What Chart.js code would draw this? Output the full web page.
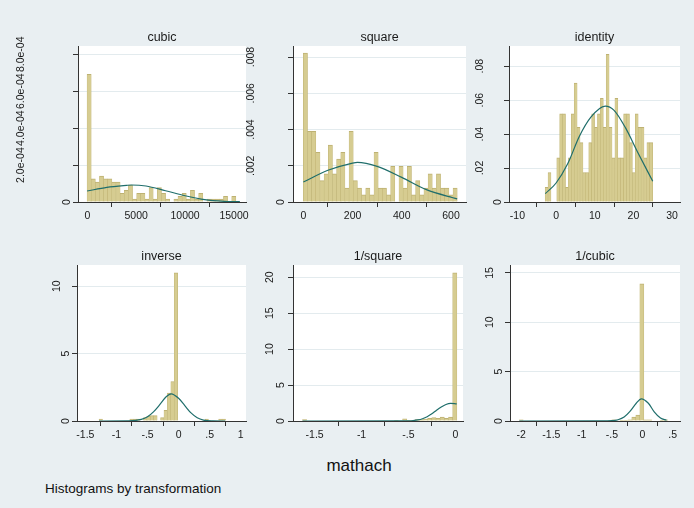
<!DOCTYPE html>
<html>
<head>
<meta charset="utf-8">
<script src="https://cdn.jsdelivr.net/npm/chart.js@4.4.0/dist/chart.umd.min.js"></script>
<style>
  body { margin: 0; background: #ffffff; }
  #wrap { position: relative; width: 694px; height: 508px; background: #e9eff2; overflow: hidden;
          font-family: "Liberation Sans", Arial, sans-serif; }
  #wrap canvas { position: absolute; }
  #xtitle { position: absolute; left: 0; width: 694px; top: 456px; text-align: center; font-size: 17px; color: #111; padding-left: 24px; box-sizing: border-box; }
  #note { position: absolute; left: 45px; top: 481px; font-size: 13.5px; color: #111; }
</style>
</head>
<body>
<div id="wrap">
  <div id="xtitle">mathach</div>
  <div id="note">Histograms by transformation</div>
</div>
<script>
// ---- cubic ----
const cubicStart = -23, cubicWidth = 422.6;
const cubicDens = [6.92e-4, 1.26e-4, 1.08e-4, 1.40e-4, 1.26e-4, 1.26e-4, 1.08e-4, 1.08e-4, 0.47e-4, 0.63e-4,
                   0.92e-4, 0.16e-4, 0.47e-4, 0.47e-4, 0.16e-4, 0.78e-4, 0.16e-4, 0.78e-4, 0.47e-4, 0.16e-4,
                   0, 0.16e-4, 0.31e-4, 0.47e-4, 0.16e-4, 0.63e-4, 0.16e-4, 0.47e-4, 0, 0.16e-4,
                   0.16e-4, 0.16e-4, 0.16e-4, 0.31e-4, 0, 0.31e-4, 0];
const cubicCurveX = [-23, 2000, 4000, 4500, 6000, 8000, 10000, 12000, 14000, 15600];
const cubicCurveY = [0.595e-4, 0.79e-4, 0.90e-4, 0.92e-4, 0.865e-4, 0.61e-4, 0.34e-4, 0.126e-4, 0.036e-4, 0.018e-4];
const cubicXTicks = [0, 5000, 10000, 15000];
const cubicXLabels = ['0', '5000', '10000', '15000'];
const cubicYTicks = [0, 2e-4, 4e-4, 6e-4, 8e-4];
const cubicYLabels = ['0', '2.0e-04', '4.0e-04', '6.0e-04', '8.0e-04'];

// ---- square ----
const squareStart = 0, squareWidth = 16.9;
const squareDens = [.00822, .0039, .0039, .00274, .00118, .00155, .00314, .00155, .00237, .00274,
                    .00077, .0039, .00118, .00077, .0004, .00077, .0004, .00274, .00077, .00077,
                    .0004, .00197, 0, .00197, .00077, .00197, .0004, .00118, .0004, .00077,
                    .00155, .00077, .00155, .00077, .00077, .0004, .00077];
const squareCurveX = [0, 100, 200, 220, 300, 400, 500, 625];
const squareCurveY = [.0011, .00175, .00215, .00219, .00197, .00136, .00068, .00017];
const squareXTicks = [0, 200, 400, 600];
const squareXLabels = ['0', '200', '400', '600'];
const squareYTicks = [0, .002, .004, .006, .008];
const squareYLabels = ['0', '.002', '.004', '.006', '.008'];

// ---- identity ----
const identStart = -2.83, identWidth = 0.752;
const identDens = [.0087, .0174, 0, 0, .026, .052, .052, .0087, .026, .052,
                   .070, .044, .035, .0174, .0174, .035, .052, .044, .052, .061,
                   .044, .087, .044, .026, .061, .026, .026, .052, .052, .035,
                   .0174, .052, .044, .044, .026, .035, .035];
const identCurveX = [-2.8, 0, 3, 6, 9, 12.7, 15, 18, 21, 25];
const identCurveY = [.0049, .0112, .0225, .0386, .050, .0565, .054, .0435, .0298, .0122];
const identXTicks = [-10, 0, 10, 20, 30];
const identXLabels = ['-10', '0', '10', '20', '30'];
const identYTicks = [0, .02, .04, .06, .08];
const identYLabels = ['0', '.02', '.04', '.06', '.08'];

// ---- inverse ----
const invStart = -1.28, invWidth = 0.055;
const invDens = [.15, 0, 0, 0, 0, 0, 0, 0, 0, .15,
                 .15, .15, 0, .26, .35, .4, .4, 0, .25, .8,
                 2.07, 2.93, 11.0, 0, 0, 0, 0, 0, 0, 0,
                 0, .15, 0, 0, 0, .15, .15];
const invCurveX = [-1.28, -0.8, -0.6, -0.5, -0.4, -0.3, -0.2, -0.12, 0, 0.1, 0.2, 0.3, 0.4, 0.55, 0.75];
const invCurveY = [0, 0.01, 0.12, 0.32, 0.7, 1.23, 1.8, 2.02, 1.69, 1.14, 0.6, 0.24, 0.07, 0.01, 0];
const invXTicks = [-1.5, -1, -0.5, 0, 0.5, 1];
const invXLabels = ['-1.5', '-1', '-.5', '0', '.5', '1'];
const invYTicks = [0, 5, 10];
const invYLabels = ['0', '5', '10'];

// ---- 1/square ----
const isqStart = -1.63, isqWidth = 0.0445;
const isqDens = [.19, 0, 0, 0, 0, 0, 0, 0, 0, 0,
                 0, 0, 0, 0, 0, 0, 0, 0, 0, 0,
                 0, 0, .1, 0, .3, .1, .1, .19, .19, .28,
                 .37, .46, .37, .56, .37, .56, 20.6];
const isqCurveX = [-1.63, -0.6, -0.5, -0.45, -0.4, -0.35, -0.3, -0.25, -0.2, -0.15, -0.1, -0.05, 0.015];
const isqCurveY = [0, 0.005, 0.02, 0.06, 0.15, 0.32, 0.6, 1.0, 1.5, 1.95, 2.3, 2.45, 2.38];
const isqXTicks = [-1.5, -1, -0.5, 0];
const isqXLabels = ['-1.5', '-1', '-.5', '0'];
const isqYTicks = [0, 5, 10, 15, 20];
const isqYLabels = ['0', '5', '10', '15', '20'];

// ---- 1/cubic ----
const icuStart = -2.03, icuWidth = 0.0663;
const icuDens = [.13, 0, 0, 0, 0, 0, 0, 0, 0, 0,
                 0, 0, 0, 0, 0, 0, 0, 0, 0, 0,
                 0, 0, 0, .13, 0, .07, .07, .13, .4, .6,
                 13.9, .13, .13, 0, 0, .07, .13];
const icuCurveX = [-2.03, -0.7, -0.5, -0.4, -0.3, -0.2, -0.1, -0.016, 0.1, 0.2, 0.3, 0.4];
const icuCurveY = [0, 0.005, 0.03, 0.13, 0.4, 1.0, 1.8, 2.25, 1.8, 0.9, 0.3, 0.07];
const icuXTicks = [-2, -1.5, -1, -0.5, 0, 0.5];
const icuXLabels = ['-2', '-1.5', '-1', '-.5', '0', '.5'];
const icuYTicks = [0, 5, 10, 15];
const icuYLabels = ['0', '5', '10', '15'];

const FONT = '"Liberation Sans", Arial, sans-serif';
const PLOT_BG = '#ffffff', GRID = '#e3ebee', AXIS = '#333333', TXT = '#1a1a1a';
const BAR_FILL = 'rgb(214,204,145)', BAR_LINE = 'rgb(190,178,115)', CURVE = '#1f6e6b';

// box = plot region [left, top, right, bottom] in page px; yoff = label distance [short, long]
const panels = [
  { title: 'cubic', box: [78, 46, 246, 202], xr: [-951, 16227], yr: [0, 8.45e-4], yoff: [11, 57],
    start: cubicStart, width: cubicWidth, dens: cubicDens, cx: cubicCurveX, cy: cubicCurveY,
    xt: cubicXTicks, xl: cubicXLabels, yt: cubicYTicks, yl: cubicYLabels },
  { title: 'square', box: [293, 46, 466, 202], xr: [-42, 661], yr: [0, .00861], yoff: [12, 42],
    start: squareStart, width: squareWidth, dens: squareDens, cx: squareCurveX, cy: squareCurveY,
    xt: squareXTicks, xl: squareXLabels, yt: squareYTicks, yl: squareYLabels },
  { title: 'identity', box: [509, 46, 680, 202], xr: [-12.18, 32.05], yr: [0, .0919], yoff: [11, 29],
    start: identStart, width: identWidth, dens: identDens, cx: identCurveX, cy: identCurveY,
    xt: identXTicks, xl: identXLabels, yt: identYTicks, yl: identYLabels },
  { title: 'inverse', box: [77, 265, 246, 421], xr: [-1.635, 1.085], yr: [0, 11.58], yoff: [11, 20],
    start: invStart, width: invWidth, dens: invDens, cx: invCurveX, cy: invCurveY,
    xt: invXTicks, xl: invXLabels, yt: invYTicks, yl: invYLabels },
  { title: '1/square', box: [293, 265, 463, 421], xr: [-1.731, 0.082], yr: [0, 21.7], yoff: [12, 23],
    start: isqStart, width: isqWidth, dens: isqDens, cx: isqCurveX, cy: isqCurveY,
    xt: isqXTicks, xl: isqXLabels, yt: isqYTicks, yl: isqYLabels },
  { title: '1/cubic', box: [510, 265, 680, 421], xr: [-2.183, 0.622], yr: [0, 15.8], yoff: [11, 19.5],
    start: icuStart, width: icuWidth, dens: icuDens, cx: icuCurveX, cy: icuCurveY,
    xt: icuXTicks, xl: icuXLabels, yt: icuYTicks, yl: icuYLabels }
];

const YW = 75, TH = 16, XH = 30, RP = 22;
const wrap = document.getElementById('wrap');

// white plot region
const plotBg = {
  id: 'plotBg',
  beforeDraw(chart) {
    const a = chart.chartArea, c = chart.ctx;
    c.save(); c.fillStyle = PLOT_BG; c.fillRect(a.left, a.top, a.right - a.left, a.bottom - a.top); c.restore();
  }
};

// stata style vertical y labels
const yLabels = {
  id: 'yLabels',
  afterDraw(chart, args, opts) {
    const p = opts.panel, ys = chart.scales.y, c = chart.ctx, left = chart.chartArea.left;
    c.save();
    c.font = '10.5px ' + FONT; c.fillStyle = TXT; c.textAlign = 'center'; c.textBaseline = 'middle';
    p.yt.forEach((v, i) => {
      const lab = p.yl[i];
      const off = lab.length === 1 ? p.yoff[0] : p.yoff[1];
      c.save();
      c.translate(left - off, ys.getPixelForValue(v));
      c.rotate(-Math.PI / 2);
      c.fillText(lab, 0, 0);
      c.restore();
    });
    c.restore();
  }
};

panels.forEach(p => {
  const cv = document.createElement('canvas');
  cv.width = p.box[2] - p.box[0] + YW + RP;
  cv.height = p.box[3] - p.box[1] + TH + XH;
  cv.style.left = (p.box[0] - YW) + 'px';
  cv.style.top = (p.box[1] - TH) + 'px';
  wrap.appendChild(cv);

  const bars = p.dens.map((d, i) => ({ x: p.start + p.width * (i + 0.5), y: d }));
  const curve = p.cx.map((x, i) => ({ x: x, y: p.cy[i] }));

  new Chart(cv, {
    type: 'bar',
    data: {
      datasets: [
        { type: 'line', data: curve, borderColor: CURVE, borderWidth: 1.2, pointRadius: 0,
          cubicInterpolationMode: 'monotone', fill: false, order: 0 },
        { type: 'bar', data: bars, backgroundColor: BAR_FILL, borderColor: BAR_LINE,
          borderWidth: { top: 1, left: 0.5, right: 0.5, bottom: 0 }, borderSkipped: 'bottom',
          barPercentage: 1, categoryPercentage: 1, order: 1 }
      ]
    },
    options: {
      responsive: false, animation: false, devicePixelRatio: 1,
      layout: { padding: { left: 0, top: 0, right: RP, bottom: 0 } },
      plugins: {
        legend: { display: false }, tooltip: { enabled: false },
        title: { display: true, text: p.title, color: TXT, fullSize: false,
                 font: { size: 12.5, family: FONT, weight: 'normal' }, padding: { top: 0, bottom: 1 } },
        yLabels: { panel: p }
      },
      scales: {
        x: {
          type: 'linear', min: p.xr[0], max: p.xr[1], offset: false,
          afterBuildTicks: s => { s.ticks = p.xt.map(v => ({ value: v })); },
          afterFit: s => { s.height = XH; s.paddingLeft = 0; s.paddingRight = 0; },
          ticks: { autoSkip: false, maxRotation: 0, minRotation: 0, padding: 3, color: TXT,
                   font: { size: 10.5, family: FONT }, callback: (v, i) => p.xl[i] },
          grid: { drawOnChartArea: false, drawTicks: true, tickLength: 5, tickColor: AXIS },
          border: { display: true, color: AXIS, width: 1 }
        },
        y: {
          type: 'linear', min: p.yr[0], max: p.yr[1],
          afterBuildTicks: s => { s.ticks = p.yt.map(v => ({ value: v })); },
          afterFit: s => { s.width = YW; s.paddingTop = 0; s.paddingBottom = 0; },
          ticks: { display: false },
          grid: { drawOnChartArea: true, drawTicks: true, tickLength: 5, tickColor: AXIS,
                  color: ctx => (ctx.tick && ctx.tick.value === 0) ? 'rgba(0,0,0,0)' : GRID },
          border: { display: true, color: AXIS, width: 1 }
        }
      }
    },
    plugins: [plotBg, yLabels]
  });
});
</script>
</body>
</html>
